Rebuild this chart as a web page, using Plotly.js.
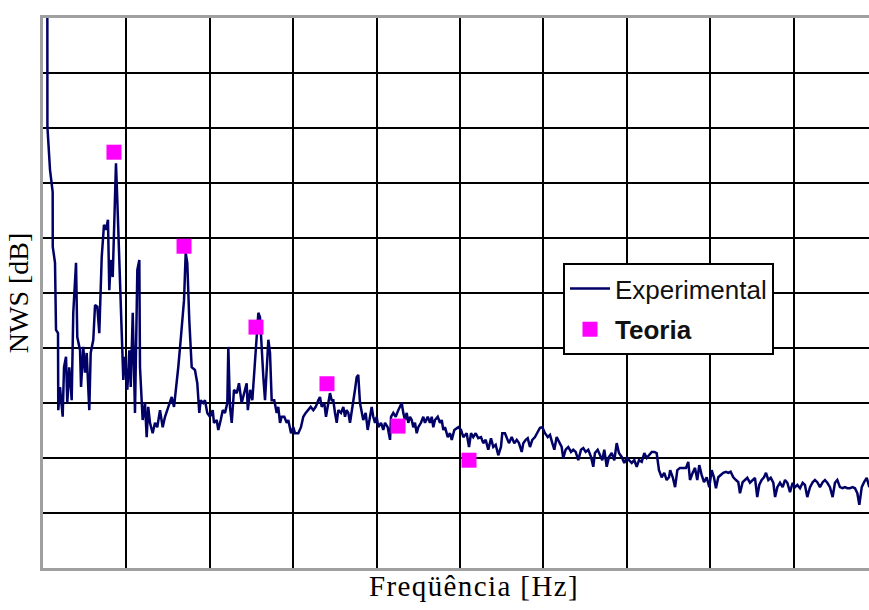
<!DOCTYPE html>
<html>
<head>
<meta charset="utf-8">
<script src="https://cdn.plot.ly/plotly-3.0.1.min.js"></script>
<style>
html,body{margin:0;padding:0;background:#fff;overflow:hidden}
#chart .xtitle{letter-spacing:1.4px;transform:translateX(14px)}
</style>
</head>
<body>
<div id="chart" style="width:877px;height:610px"></div>
<script>
// Experimental spectrum (frequency in Hz, level in dB)
var freqExp = [
5.2,5.3,8.4,11.6,11.7,14.4,15.6,18.0,18.3,20.4,
23.6,25.2,27.6,29.1,31.5,34.4,36.3,39.6,41.1,44.4,
45.6,48.3,50.4,52.4,55.5,57.2,60.3,62.4,65.1,67.5,
70.4,73.1,75.5,77.9,79.5,81.2,83.6,85.1,87.5,89.1,
92.3,94.4,96.3,98.3,101.1,103.5,105.2,107.6,110.3,113.1,
115.5,116.3,119.5,122.3,124.3,126.2,128.3,131.5,134.3,137.0,
140.3,143.5,146.3,150.2,154.3,157.1,159.5,162.2,165.1,167.5,
169.1,171.1,173.0,175.4,178.3,182.2,185.0,187.4,189.1,192.2,
194.2,197.0,200.2,203.5,205.0,208.3,210.2,213.1,215.5,218.2,
221.0,222.2,224.2,226.3,229.0,232.3,235.0,238.2,241.0,244.2,
245.6,248.4,251.0,253.4,256.3,258.2,260.2,262.3,264.2,266.2,
268.3,270.2,272.2,274.2,277.3,280.2,282.1,284.2,286.2,289.3,
292.2,294.1,297.4,300.1,302.2,306.1,309.3,312.1,315.0,318.1,
321.0,324.1,327.0,330.1,332.1,334.2,337.3,339.3,342.1,344.1,
346.2,348.1,350.1,352.2,354.1,357.3,360.1,362.1,364.1,366.1,
368.1,370.1,372.1,374.1,376.1,378.0,380.1,382.1,384.0,386.9,
389.3,392.1,394.1,396.0,398.1,400.1,402.0,405.3,408.0,410.1,
413.3,416.1,417.3,420.0,422.9,426.0,428.1,430.1,432.0,434.0,
436.1,438.0,440.0,442.1,444.0,446.0,448.1,450.0,453.2,456.0,
458.0,461.3,464.0,466.1,468.0,470.0,473.3,476.0,478.1,480.0,
482.0,485.3,488.0,490.1,493.2,
498.0,501.2,504.0,508.0,510.8,513.2,515.9,518.8,521.9,525.2,
527.9,530.8,533.9,537.2,539.9,542.8,545.9,549.1,550.7,553.9,
556.0,558.7,562.0,565.1,568.0,570.7,574.0,575.9,578.8,581.2,
583.9,586.7,589.9,593.2,595.9,598.7,601.9,605.2,607.9,610.7,
613.1,615.9,618.7,621.9,623.8,626.7,629.8,633.1,635.8,638.7,
641.8,645.1,647.8,650.7,653.8,657.1,659.8,661.8,665.1,667.8,
670.6,673.0,675.9,678.6,681.9,685.0,687.9,690.6,693.9,697.0,
699.8,702.6,705.9,709.0,711.9,714.6,717.9,721.0,723.9,726.6,
729.9,733.0,735.8,738.6,741.8,744.9,747.8,750.6,
752.0,755.1,757.9,760.6,763.8,767.0,771.0,773.7,775.8,779.0,
781.8,784.5,786.9,789.8,792.6,795.8,798.9,801.8,804.5,806.9,
809.7,812.6,815.7,818.9,821.7,824.5,827.7,830.9,833.7,835.7,
838.9,841.7,844.5,847.7,850.9,853.7,856.4,858.8,861.7,864.5,
866.9,869.7,872.6,875.7,877.8,880.5,883.7,886.9,889.7,892.5,
895.7,898.9,901.7,904.5,907.7,910.9,913.6,916.4,919.7,922.9,
925.6,928.4,931.6,934.9,937.6,940.4,943.6,946.8,949.6,952.4,
955.6,958.8,961.6,964.4,967.6,970.8,973.6,976.4,978.8,981.7,
984.5,987.7,990.8
];
var nwsExp = [
102,80.2,72.4,68.4,58.4,55.5,43.3,42.7,28.7,32.9,
27.5,36.5,38.4,30.0,36.5,30.5,46.4,55.5,42.0,39.6,
32.9,40.2,35.5,39.1,28.7,39.1,41.5,47.8,47.5,42.7,
56.5,62.4,61.5,63.3,50.5,56.0,52.9,60.9,73.6,66.9,
50.0,42.7,34.2,38.4,32.4,39.6,32.9,46.4,28.2,54.2,
56.0,36.5,26.9,30.0,23.8,29.3,26.4,24.5,26.4,25.6,
28.7,25.6,27.5,29.3,31.1,29.3,32.4,36.5,41.5,46.4,
48.7,57.3,55.5,45.1,36.5,36.0,33.6,28.2,30.5,30.0,
30.5,28.2,27.5,28.7,26.4,26.9,25.1,26.9,28.7,28.2,
30.0,40.2,29.3,26.4,32.4,31.8,33.6,30.0,31.8,33.6,
28.7,32.4,30.5,36.0,42.0,46.4,45.6,38.4,34.7,30.5,
35.5,41.5,39.1,30.5,30.5,28.2,29.3,26.4,27.5,27.5,
26.4,26.9,24.5,25.6,24.5,24.5,25.6,27.5,28.2,28.7,
29.3,28.7,29.3,30.5,31.1,29.3,30.0,27.5,30.0,31.8,
30.5,30.5,28.2,26.4,28.7,28.2,29.3,27.5,28.7,28.2,
26.4,28.2,30.0,32.4,34.7,35.1,30.0,28.7,26.9,28.2,
25.1,27.5,29.3,27.5,26.4,27.5,25.6,26.4,25.1,26.4,
25.6,23.3,27.5,28.2,27.5,28.7,29.3,30.0,28.2,26.9,
28.2,26.4,27.5,26.9,25.6,26.4,24.5,25.6,26.4,27.5,
26.4,27.5,26.4,27.5,25.6,26.9,27.5,26.4,26.9,25.1,
25.6,23.8,24.5,23.3,25.1,
25.6,25.1,23.8,24.5,22.0,24.5,23.8,24.5,23.6,23.8,
22.7,23.3,21.5,23.6,22.0,22.4,20.5,22.0,24.5,24.5,
23.6,22.7,23.8,22.7,23.3,22.7,21.1,22.7,23.3,23.6,
22.0,23.3,23.8,24.7,25.5,25.6,24.5,23.8,24.2,22.7,
21.5,23.8,22.9,22.0,20.0,21.5,22.0,21.1,21.5,21.1,
19.6,21.5,21.8,21.1,21.5,20.2,18.4,20.9,21.5,20.5,
19.6,21.5,18.4,20.2,20.9,19.6,22.7,20.9,20.2,19.1,
20.0,19.6,19.1,19.6,18.4,19.6,19.3,20.9,20.0,20.5,
21.1,21.1,20.9,17.8,16.5,17.3,16.0,16.5,
17.8,16.5,14.7,17.8,18.2,18.2,18.2,19.3,16.0,17.3,
18.2,16.0,18.7,16.9,15.6,16.5,14.7,17.8,16.5,14.5,
16.5,16.9,17.3,17.5,17.3,17.5,16.5,16.0,15.6,13.6,
15.6,16.0,16.4,15.5,16.0,16.4,12.9,15.1,16.0,16.5,
17.3,16.0,16.4,15.5,12.9,14.7,15.5,14.7,16.0,15.5,
13.8,15.5,14.7,15.1,14.5,15.5,15.1,12.9,14.7,15.6,
16.0,15.6,14.7,15.6,16.0,15.5,14.7,12.9,15.5,16.0,
14.7,14.5,14.7,14.5,14.5,14.7,14.5,13.6,11.5,14.7,
15.6,16.4,14.7
];
// Theoretical points
var freqTeo = [85.1, 169.1, 255.4, 340.5, 425.7, 510.8];
var nwsTeo  = [75.6, 58.5, 43.8, 33.5, 25.8, 19.6];

var seriesNames = ['Experimental', '<b>Teoria</b>'];
var xTitle = 'Freqüência [Hz]';
var yTitle = 'NWS [dB]';

var traces = [
  {x: freqExp, y: nwsExp, type: 'scatter', mode: 'lines', name: seriesNames[0],
   legendgroup: 'exp', line: {color: '#000066', width: 2.5}},
  {x: freqTeo, y: nwsTeo, type: 'scatter', mode: 'markers', name: seriesNames[1],
   legendgroup: 'teo', marker: {symbol: 'square', size: 15, color: '#ff00ff', line: {width: 0}}}
];

var layout = {
  width: 877, height: 610,
  margin: {l: 43, r: 0, t: 18, b: 42, pad: 0},
  paper_bgcolor: '#fff', plot_bgcolor: '#fff',
  showlegend: true,
  xaxis: {
    range: [0, 1000], tick0: 0, dtick: 100, showticklabels: false, ticks: '',
    showgrid: true, gridcolor: '#000', gridwidth: 2, zeroline: false,
    showline: true, linecolor: '#a0a0a0', linewidth: 3, mirror: true,
    title: {text: xTitle, font: {family: 'Liberation Serif, Times New Roman, serif', size: 29, color: '#000'}, standoff: 6}
  },
  yaxis: {
    range: [0, 100], tick0: 0, dtick: 10, showticklabels: false, ticks: '',
    showgrid: true, gridcolor: '#000', gridwidth: 2, zeroline: false,
    showline: true, linecolor: '#a0a0a0', linewidth: 3, mirror: false,
    title: {text: yTitle, font: {family: 'Liberation Serif, Times New Roman, serif', size: 28, color: '#000'}, standoff: 4}
  },
  legend: {
    x: 0.6235, y: 0.5545, xanchor: 'left', yanchor: 'top',
    bgcolor: '#fff', bordercolor: '#000', borderwidth: 2,
    traceorder: 'grouped', tracegroupgap: 4, itemwidth: 40,
    font: {family: 'Liberation Sans, Arial, sans-serif', size: 26, color: '#111'}
  }
};

Plotly.newPlot('chart', traces, layout, {staticPlot: true, displayModeBar: false});
</script>
</body>
</html>
